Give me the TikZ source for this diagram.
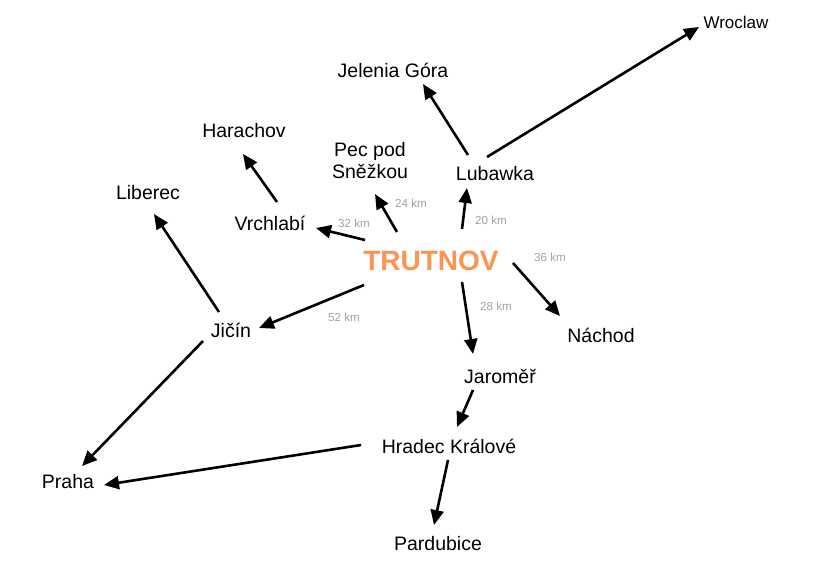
\documentclass[tikz,border=0pt]{standalone}
\usepackage{fontspec}
\setmainfont{Liberation Sans}
\usetikzlibrary{arrows.meta,calc}
\definecolor{trorange}{RGB}{252,148,82}
\definecolor{kmgray}{RGB}{160,160,160}
\tikzset{
  city/.style={inner sep=0pt, anchor=base, font=\fontsize{19.5}{22}\selectfont},
  km/.style={inner sep=0pt, anchor=center, text=kmgray, font=\fontsize{11.6}{13}\selectfont},
  arr/.style={line width=2.6pt, -{Triangle[length=15pt,width=13pt]}},
}
\begin{document}
\begin{tikzpicture}[x=1pt,y=-1pt]
\path[use as bounding box] (0,0) rectangle (827,563);
% cities
\node[city, font=\fontsize{17}{20}\selectfont] (wro) at (736,28) {Wroclaw};
\node[city] (jel) at (393,77) {Jelenia Góra};
\node[city] (har) at (244,137) {Harachov};
\node[city, anchor=center, align=center] (pec) at (370,161) {Pec pod\\Sněžkou};
\node[city] (lub) at (495,180) {Lubawka};
\node[city] (lib) at (148,199) {Liberec};
\node[city] (vrc) at (270,230) {Vrchlabí};
\node[city, text=trorange, font=\fontsize{28}{30}\selectfont\bfseries] (tru) at (431,270) {TRUTNOV};
\node[city] (jic) at (231,337) {Jičín};
\node[city] (nac) at (601,342) {Náchod};
\node[city] (jar) at (500,383) {Jaroměř};
\node[city] (hra) at (449,453) {Hradec Králové};
\node[city] (pra) at (68,488) {Praha};
\node[city] (par) at (438,550) {Pardubice};
% distance labels
\node[km] (k32) at (354,223) {32 km};
\node[km] (k24) at (411,203) {24 km};
\node[km] (k20) at (491,220) {20 km};
\node[km] (k36) at (550,257) {36 km};
\node[km] (k28) at (496,306) {28 km};
\node[km] (k52) at (344,317) {52 km};
% connectors
\draw[arr] ($(lub.base)+(-8,-23)$) -- ($(wro.base)+(-37,-1)$);
\draw[arr] ($(lub.base)+(-27,-25)$) -- ($(jel.base)+(30,7)$);
\draw[arr] ($(vrc.base)+(7,-28)$) -- ($(har.base)+(-1,17)$);
\draw[arr] ($(jic.base)+(-12,-25)$) -- ($(lib.base)+(6,15)$);
\draw[arr] ($(tru.base)+(-66,-30)$) -- ($(vrc.base)+(46,-2)$);
\draw[arr] ($(tru.base)+(-34,-38)$) -- ($(pec.center)+(5,33)$);
\draw[arr] ($(tru.base)+(31,-41)$) -- ($(lub.base)+(-28,8)$);
\draw[arr] ($(tru.base)+(82,-7)$) -- ($(nac.base)+(-41,-26)$);
\draw[arr] ($(tru.base)+(31,12)$) -- ($(jar.base)+(-27,-29)$);
\draw[arr] ($(tru.base)+(-67,15)$) -- ($(jic.base)+(28,-9)$);
\draw[arr] ($(jar.base)+(-27,7)$) -- ($(hra.base)+(8,-26)$);
\draw[arr] ($(hra.base)+(-1,7)$) -- ($(par.base)+(-4,-25)$);
\draw[arr] ($(hra.base)+(-88,-8)$) -- ($(pra.base)+(36,-3)$);
\draw[arr] ($(jic.base)+(-28,4)$) -- ($(pra.base)+(14,-22)$);
\end{tikzpicture}
\end{document}
